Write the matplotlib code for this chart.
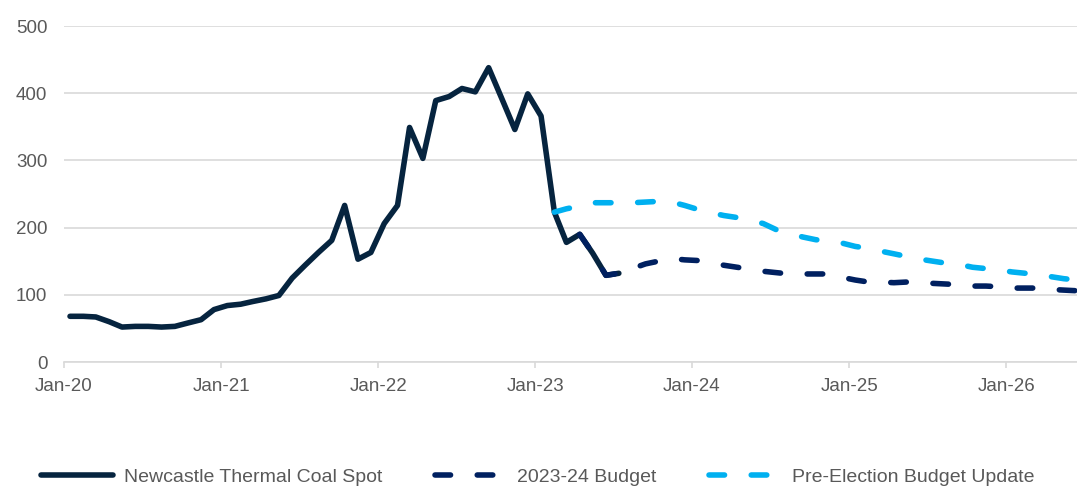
import pandas as pd
import numpy as np
import matplotlib
matplotlib.use("Agg")
import matplotlib.pyplot as plt
import matplotlib.dates as mdates

plt.rcParams['font.family'] = ['Liberation Sans', 'DejaVu Sans']

# monthly values, US$/t
coal_start = "2020-01-01"
coal_spot = [68, 68, 67, 60, 52, 53, 53, 52, 53, 58, 63, 78,
             84, 86, 90, 94, 99, 125, 144, 163, 181, 233, 153, 163,
             206, 233, 349, 303, 389, 395, 407, 402, 438, 393, 346, 399,
             366, 223, 178, 190, 162, 129, 132]

budget_start = "2023-04-01"
budget_2324 = [190, 162, 129, 132, 139, 146, 150, 154, 152,
               151, 148, 144, 141, 138, 135, 133, 131, 131, 131, 131, 126,
               122, 119, 119, 118, 119, 118, 117, 116, 115, 113, 113, 112,
               110, 110, 110, 108, 107, 106]

pebu_start = "2023-02-01"
pre_election = [223, 228, 232, 237, 237, 237, 237, 238, 239, 238, 233,
                227, 222, 218, 215, 211, 206, 197, 191, 186, 182, 180, 177,
                172, 169, 165, 161, 157, 153, 150, 147, 145, 141, 139, 137,
                134, 132, 130, 127, 124, 122]

labels = ["Newcastle Thermal Coal Spot", "2023-24 Budget", "Pre-Election Budget Update"]


def month_dates(start, n):
    # points sit in the middle of each month
    return pd.date_range(start, periods=n, freq="MS") + pd.Timedelta(days=14)


fig = plt.figure(figsize=(10.77, 4.86), dpi=100)
ax = fig.add_axes([64 / 1077, 124 / 486, 1 - 64 / 1077, (362 - 26) / 486])

lw = 4.0
dash = (2.8, 4.8)
ax.plot(month_dates(coal_start, len(coal_spot)), coal_spot, color="#06243f",
        lw=lw, solid_capstyle="round", solid_joinstyle="round", label=labels[0], zorder=3)
ax.plot(month_dates(budget_start, len(budget_2324)), budget_2324, color="#002060",
        lw=lw, dashes=dash, dash_capstyle="round", label=labels[1], zorder=4)
ax.plot(month_dates(pebu_start, len(pre_election)), pre_election, color="#00b0f0",
        lw=lw, dashes=dash, dash_capstyle="round", label=labels[2], zorder=5)

ax.set_ylim(0, 500)
ax.set_yticks([0, 100, 200, 300, 400, 500])
ax.set_xlim(pd.Timestamp("2020-01-01"), pd.Timestamp("2026-06-15"))
ax.xaxis.set_major_locator(mdates.YearLocator(month=1, day=1))
ax.xaxis.set_major_formatter(mdates.DateFormatter("%b-%y"))

ax.grid(axis="y", color="#d9d9d9", lw=1.2, zorder=0)
for s in ["top", "right", "left"]:
    ax.spines[s].set_visible(False)
ax.spines["bottom"].set_color("#d9d9d9")
ax.spines["bottom"].set_linewidth(1.2)
ax.tick_params(axis="y", length=0, pad=12, labelsize=13.5, labelcolor="#595959")
ax.tick_params(axis="x", length=4.5, width=1.2, color="#d9d9d9", pad=7,
               labelsize=13.5, labelcolor="#595959")
ax.set_facecolor("white")

# legend sits at the very bottom edge
fig.legend(loc="center left", bbox_to_anchor=(41 / 1077, 9 / 486),
           bbox_transform=fig.transFigure, ncol=3, frameon=False, fontsize=14,
           handlelength=3.7, handletextpad=0.55, columnspacing=2.7,
           borderpad=0, borderaxespad=0, labelcolor="#595959")

fig.savefig("out.png", dpi=100)
